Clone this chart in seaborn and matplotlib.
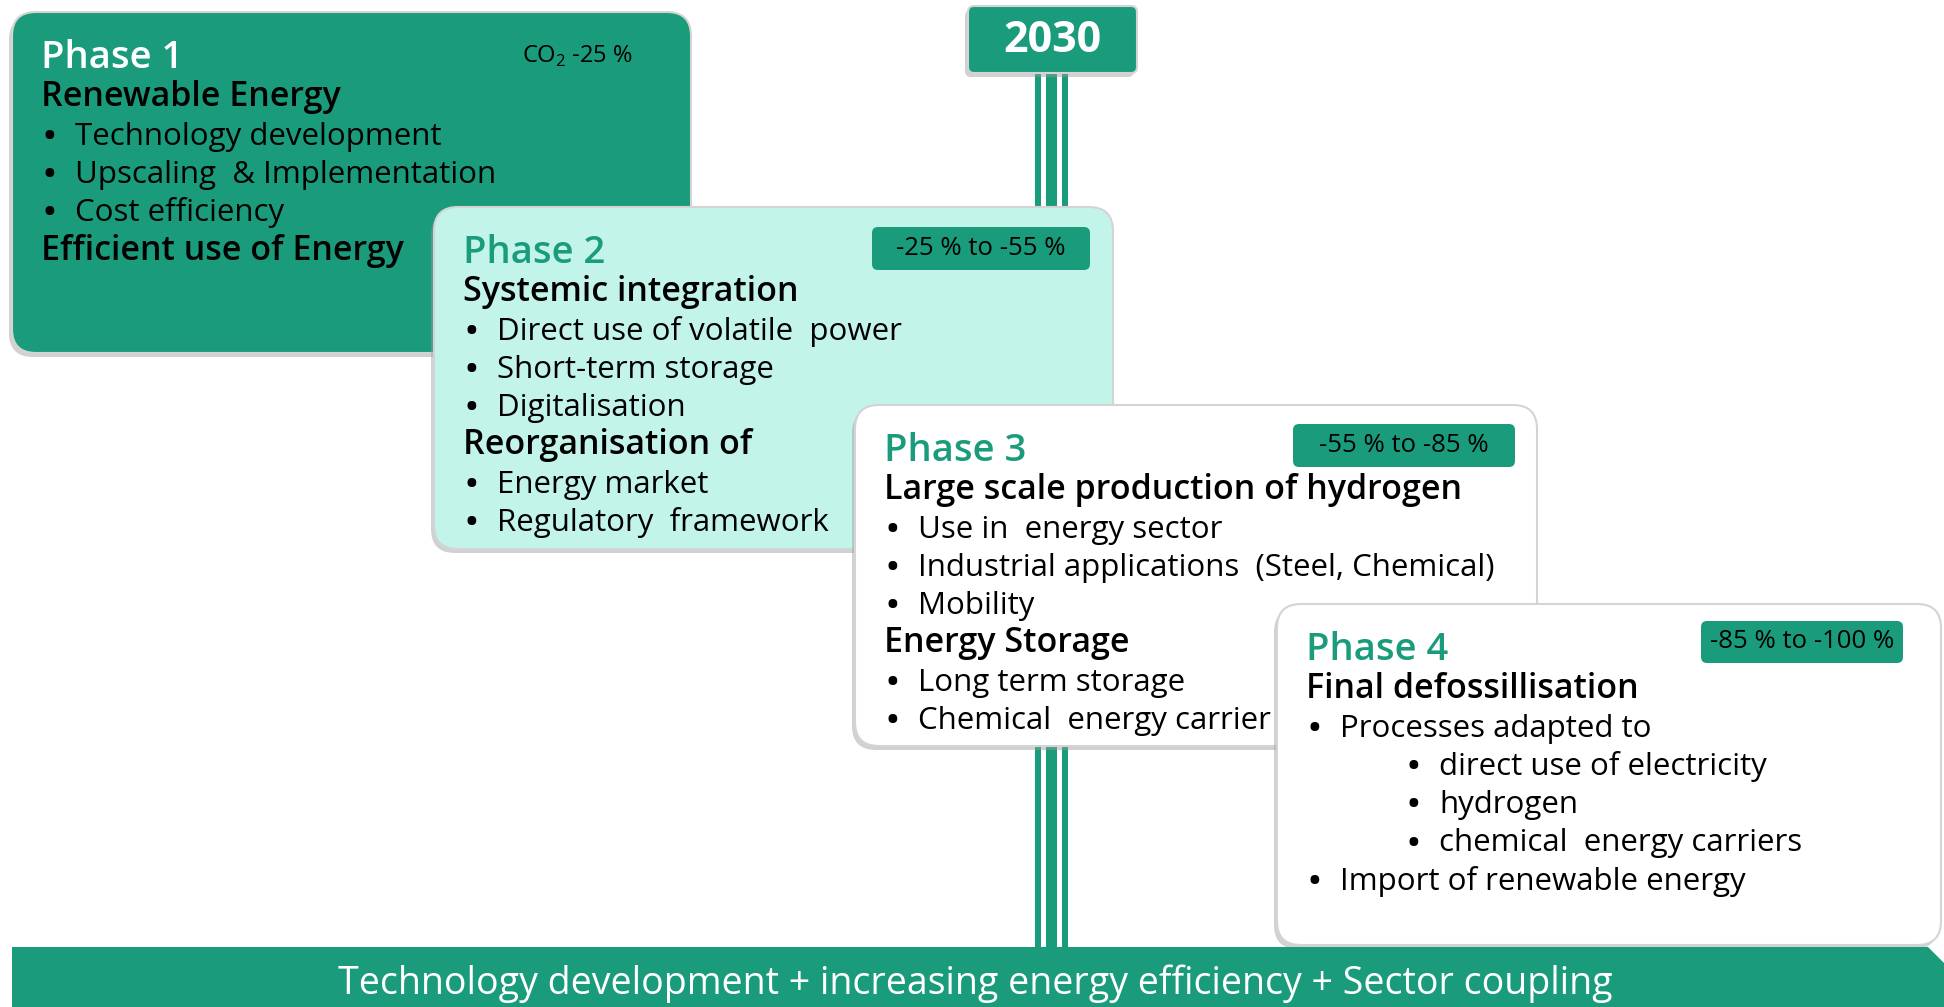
import matplotlib

matplotlib.use("Agg")
import matplotlib.pyplot as plt
import seaborn as sns
from matplotlib.patches import FancyBboxPatch, Polygon, Rectangle

# --- content -------------------------------------------------------------
phase_titles = ["Phase 1", "Phase 2", "Phase 3", "Phase 4"]
phase_badges = ["CO$_2$ -25 %", "-25 % to -55 %", "-55 % to -85 %", "-85 % to -100 %"]
phase1_lines = [
    ("head", "Renewable Energy"),
    ("bullet", "Technology development"),
    ("bullet", "Upscaling  & Implementation"),
    ("bullet", "Cost efficiency"),
    ("head", "Efficient use of Energy"),
]
phase2_lines = [
    ("head", "Systemic integration"),
    ("bullet", "Direct use of volatile  power"),
    ("bullet", "Short-term storage"),
    ("bullet", "Digitalisation"),
    ("head", "Reorganisation of"),
    ("bullet", "Energy market"),
    ("bullet", "Regulatory  framework"),
]
phase3_lines = [
    ("head", "Large scale production of hydrogen"),
    ("bullet", "Use in  energy sector"),
    ("bullet", "Industrial applications  (Steel, Chemical)"),
    ("bullet", "Mobility"),
    ("head", "Energy Storage"),
    ("bullet", "Long term storage"),
    ("bullet", "Chemical  energy carrier"),
]
phase4_lines = [
    ("head", "Final defossillisation"),
    ("bullet", "Processes adapted to"),
    ("sub", "direct use of electricity"),
    ("sub", "hydrogen"),
    ("sub", "chemical  energy carriers"),
    ("bullet", "Import of renewable energy"),
]
milestone_year = "2030"
bottom_text = "Technology development + increasing energy efficiency + Sector coupling"

# --- layout (pixel space, y downwards) ------------------------------------
GREEN = "#1a9c7c"
MINT = "#c3f4ea"
boxes = [  # x0, y0, x1, y1, face, title colour
    (12, 12, 691, 353, GREEN, "white"),
    (434, 207, 1113, 549, MINT, GREEN),
    (855, 405, 1537, 746, "white", GREEN),
    (1277, 604, 1941, 945, "white", GREEN),
]
badges = [None, (872, 227, 1090, 270), (1293, 424, 1515, 467), (1701, 621, 1903, 663)]
STEP = 38.3
BODY = 22.5

sns.set_theme(style="white")
plt.rcParams["font.family"] = ["Open Sans", "DejaVu Sans"]
plt.rcParams["mathtext.fontset"] = "custom"
plt.rcParams["mathtext.rm"] = "Open Sans"

fig = plt.figure(figsize=(19.44, 10.07), dpi=100)
ax = fig.add_axes([0, 0, 1, 1])
ax.set_xlim(0, 1944)
ax.set_ylim(1007, 0)
ax.axis("off")


def rbox(x0, y0, x1, y1, face, z, r=24, edge="#d4d4d4", shadow=True):
    if shadow:
        ax.add_patch(FancyBboxPatch(
            (x0 - 3, y0 + 4), x1 - x0, y1 - y0,
            boxstyle=f"round,pad=0,rounding_size={r}",
            fc="#9a9a9a", ec="none", alpha=0.45, zorder=z - 0.1))
    ax.add_patch(FancyBboxPatch(
        (x0, y0), x1 - x0, y1 - y0,
        boxstyle=f"round,pad=0,rounding_size={r}",
        fc=face, ec=edge, lw=1.5, zorder=z))


# milestone sign and pole
for sx0, sx1 in [(1035, 1041), (1046, 1057), (1062, 1068)]:
    ax.add_patch(Rectangle((sx0, 73), sx1 - sx0, 947 - 73, fc=GREEN, ec="none", zorder=1))
rbox(968, 6, 1137, 73, GREEN, 2, r=6)
ax.text(1052.5, 41, milestone_year, color="white", fontsize=31, fontweight="bold",
        ha="center", va="center", zorder=3)

all_lines = [phase1_lines, phase2_lines, phase3_lines, phase4_lines]
for i, (title, badge, lines) in enumerate(zip(phase_titles, phase_badges, all_lines)):
    x0, y0, x1, y1, face, tcol = boxes[i]
    z = 5 + 2 * i
    rbox(x0, y0, x1, y1, face, z)
    tx = x0 + 29
    base = y0 + 56
    ax.text(tx, base, title, color=tcol, fontsize=27.5, fontweight="semibold",
            va="baseline", zorder=z + 1)
    if badges[i] is None:
        ax.text(577, 56, badge, color="black", fontsize=17, ha="center",
                va="center", zorder=z + 1)
    else:
        bx0, by0, bx1, by1 = badges[i]
        ax.add_patch(FancyBboxPatch((bx0, by0), bx1 - bx0, by1 - by0,
                                    boxstyle="round,pad=0,rounding_size=6",
                                    fc=GREEN, ec="none", zorder=z + 0.5))
        ax.text((bx0 + bx1) / 2, (by0 + by1) / 2, badge, color="black",
                fontsize=18.5, ha="center", va="center", zorder=z + 1)
    for k, (kind, txt) in enumerate(lines):
        yb = base + STEP * (k + 1)
        if kind == "head":
            ax.text(tx, yb, txt, fontsize=24.5, fontweight="semibold", color="black",
                    va="baseline", zorder=z + 1)
        else:
            dx = 0 if kind == "bullet" else 99
            ax.text(tx + dx + 2, yb, "•", fontsize=BODY, fontweight="bold", color="black",
                    va="baseline", zorder=z + 1)
            ax.text(tx + dx + 34, yb, txt, fontsize=BODY, color="black",
                    va="baseline", zorder=z + 1)

# bottom arrow band
ax.add_patch(Polygon([(12, 947), (1928, 947), (1995, 1014), (1928, 1081), (12, 1081)],
                     closed=True, fc=GREEN, ec="none", zorder=20))
ax.text(975, 994, bottom_text, color="white", fontsize=27, ha="center",
        va="baseline", zorder=21)

fig.savefig("out.png", dpi=100)
